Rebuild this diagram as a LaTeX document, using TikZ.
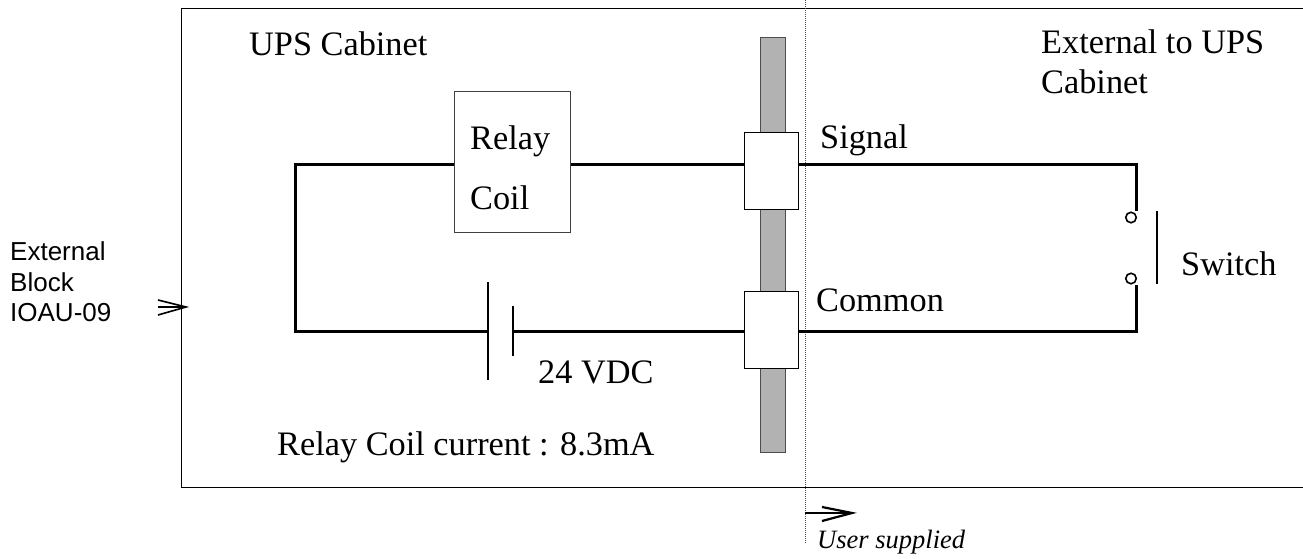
\documentclass[tikz,border=0pt]{standalone}
\usepackage{xcolor}
\usepackage{fontspec}
\setmainfont{Liberation Serif}
\newfontfamily\labelsans{Liberation Sans}
\usetikzlibrary{arrows,positioning,calc}
\definecolor{bar-gray}{gray}{0.7}

\begin{document}
\begin{tikzpicture}[x=1pt, y=-1pt,
    cabinet/.style = {draw, line width=1pt},
    terminal/.style = {shape=rectangle, draw, fill=white, line width=1pt,
      minimum width=54pt, minimum height=77pt, inner sep=0pt},
    relay/.style = {shape=rectangle, draw=black!75, fill=white, line width=1pt,
      minimum width=116pt, minimum height=141pt, inner sep=0pt},
    contact/.style = {shape=circle, draw, fill=white, line width=1.6pt,
      minimum size=10.5pt, inner sep=0pt},
    wire/.style = {line width=3pt},
    thinwire/.style = {line width=1.6pt},
    txt/.style = {inner sep=0pt, anchor=base west, font=\fontsize{34.3}{34.3}\selectfont},
    sidetxt/.style = {inner sep=0pt, anchor=base west, font=\labelsans\fontsize{26}{26}\selectfont}]

  \useasboundingbox (0,0) rectangle (1303,558);

  % cabinet and terminal strip
  \draw [cabinet] (1303,8) -- (181,8) -- (181,487) -- (1303,487);
  \node [draw=black!70, fill=bar-gray, line width=1pt, minimum width=25pt, minimum height=415pt,
    inner sep=0pt] (strip) at (772.5,244.5) {};
  \draw [densely dotted, line width=1pt, black!70] (805,0) -- (805,543);
  \node [terminal] (signalterm) at (771,170.5) {};
  \node [terminal] (commonterm) at (771,329.5) {};

  % circuit
  \node [relay] (coil) at (512,161.5) {};
  \node [txt] (relaytxt) at (470,149) {Relay};
  \node [txt] (coiltxt) at (470,209) {Coil};
  \coordinate (topleft) at (295,164);
  \coordinate (botleft) at (295,331);
  \coordinate (topright) at (1136,164);
  \coordinate (botright) at (1136,331);
  \node [contact] (swtop) at (1131,217.5) {};
  \node [contact] (swbot) at (1131,278.5) {};
  \coordinate (plateA) at (488,331);
  \coordinate (plateB) at (513,331);
  \draw [wire] (coil.west |- topleft) -- (topleft) -- (botleft) -- (plateA);
  \draw [wire] (plateB) -- (commonterm.west |- botleft);
  \draw [wire] (coil.east |- topleft) -- (signalterm.west |- topleft);
  \draw [wire] (signalterm.east |- topright) -- (topright) -- (topright |- swtop.north);
  \draw [wire] (commonterm.east |- botright) -- (botright) -- (botright |- swbot.south);
  \draw [thinwire] ($(plateA)+(0,-49)$) -- ($(plateA)+(0,49)$);
  \draw [thinwire] ($(plateB)+(0,-25)$) -- ($(plateB)+(0,25)$);
  \coordinate (bladetop) at (1157,211);
  \coordinate (bladebot) at (1157,284);
  \draw [thinwire] (bladetop) -- (bladebot);

  % labels
  \node [txt] (upstxt) at (249,55) {UPS Cabinet};
  \node [txt] (exttxt) at (1041,53) {External to UPS};
  \node [txt] (exttxtb) at (1041,93) {Cabinet};
  \node [txt] (signaltxt) at (820,148) {Signal};
  \node [txt] (commontxt) at (816,311) {Common};
  \node [txt] (switchtxt) at (1181,275) {Switch};
  \node [txt] (volttxt) at (538,383) {24 VDC};
  \node [txt] (currenttxt) at (277,455) {Relay Coil current : 8.3mA};
  \node [sidetxt] (blocka) at (10,260) {External};
  \node [sidetxt] (blockb) at (10,291) {Block};
  \node [sidetxt] (blockc) at (10,321) {IOAU-09};
  \node [inner sep=0pt, anchor=base west, font=\fontsize{26.5}{26.5}\selectfont\itshape] (usertxt) at (817,548) {User supplied};

  % arrows
  \coordinate (blockstart) at (158,307);
  \coordinate (blockend) at (186,307);
  \draw [line width=1.6pt] (blockstart) -- (blockend);
  \draw [line width=1.6pt] (158,300) -- (blockend) -- (158,315);
  \coordinate (userstart) at (805,513);
  \coordinate (userend) at (852,513);
  \draw [line width=2.2pt] (userstart) -- (userend);
  \draw [line width=2.2pt] (822,507) -- (userend) -- (822,521);
\end{tikzpicture}
\end{document}
